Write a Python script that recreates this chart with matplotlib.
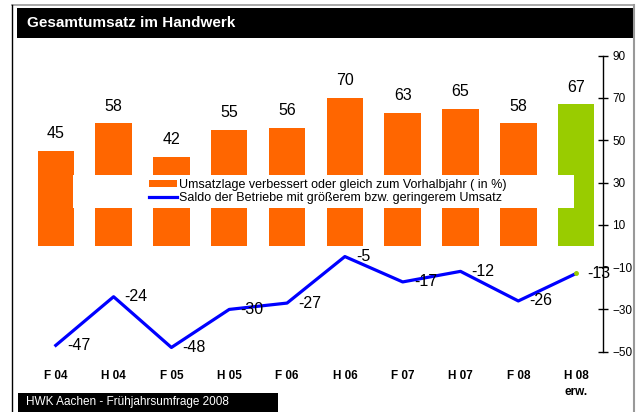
import matplotlib
matplotlib.use("Agg")
import matplotlib.pyplot as plt
from matplotlib.patches import Rectangle
from matplotlib.lines import Line2D

plt.rcParams['font.family'] = ['Liberation Sans', 'DejaVu Sans']

# data
categories = ["F 04", "H 04", "F 05", "H 05", "F 06", "H 06", "F 07", "H 07", "F 08", "H 08\nerw."]
umsatzlage = [45, 58, 42, 55, 56, 70, 63, 65, 58, 67]
saldo = [-47, -24, -48, -30, -27, -5, -17, -12, -26, -13]
yticks = [-50, -30, -10, 10, 30, 50, 70, 90]

orange = "#FF6600"
green = "#99CC00"
blue = "#0000FF"

W, H = 639, 412
fig = plt.figure(figsize=(W / 100, H / 100), dpi=100)

def fx(px):
    return px / W

def fy(py):
    return 1 - py / H

ax = fig.add_axes([fx(28.6), fy(351.7), fx(603.3) - fx(28.6), fy(55.7) - fy(351.7)])

x = list(range(len(categories)))
colors = [orange] * (len(categories) - 1) + [green]
bars = ax.bar(x, umsatzlage, width=0.63, color=colors, zorder=2)
for xi, v in zip(x, umsatzlage):
    ax.annotate(str(v), (xi, v), xytext=(0, 7), textcoords="offset points",
                ha="center", va="bottom", fontsize=11.5)

line, = ax.plot(x, saldo, color=blue, lw=2.3, zorder=4)
ax.plot(x[-1:], saldo[-1:], marker="o", ms=2.5, color=green, mec=green, zorder=5)
for xi, v in zip(x, saldo):
    ax.annotate(str(v), (xi, v), xytext=(8, 0), textcoords="offset points",
                ha="left", va="center", fontsize=11.5, zorder=6)

ax.set_xlim(-0.47, 9.47)
ax.set_ylim(-50, 90)
ax.set_yticks(yticks)
ax.yaxis.tick_right()
ax.tick_params(axis="y", direction="inout", length=7, width=1, pad=3, labelsize=8.5)
ax.set_xticks(x)
ax.set_xticklabels(categories, fontsize=8.5, fontweight="bold", linespacing=1.45)
ax.tick_params(axis="x", length=0, pad=13)
for s in ["top", "left", "bottom"]:
    ax.spines[s].set_visible(False)
ax.spines["right"].set_linewidth(1)

# white legend background box (wider than the entries, as in the original)
ax.add_patch(Rectangle((0.0773, 0.4855), 0.8717, 0.1115, transform=ax.transAxes,
                       facecolor="white", edgecolor="none", zorder=3))
handles = [Rectangle((0, 0), 1, 1, facecolor=orange, edgecolor="none"),
           Line2D([0], [0], color=blue, lw=2.3)]
labels = ["Umsatzlage verbessert oder gleich zum Vorhalbjahr ( in %)",
          "Saldo der Betriebe mit größerem bzw. geringerem Umsatz"]
leg = ax.legend(handles, labels, loc="center left", bbox_to_anchor=(0.199, 0.541),
                frameon=False, fontsize=9, borderpad=0, handlelength=2.2,
                handletextpad=0.2, labelspacing=0.1, handleheight=0.55)
leg.set_zorder(5)

# frame, title bar and footer
fig.add_artist(Line2D([fx(12), fx(634)], [fy(5), fy(5)], color="#999999", lw=1.2))
fig.add_artist(Line2D([fx(12), fx(12)], [fy(5), fy(412)], color="black", lw=1))
fig.add_artist(Line2D([fx(634), fx(634)], [fy(5), fy(412)], color="#999999", lw=1.5))
fig.add_artist(Rectangle((fx(17), fy(38)), fx(635) - fx(17), fy(8) - fy(38),
                         facecolor="black", edgecolor="none"))
fig.text(fx(27), fy(23), "Gesamtumsatz im Handwerk", color="white", fontsize=11,
         fontweight="bold", ha="left", va="center")
fig.add_artist(Rectangle((fx(18), fy(412)), fx(278) - fx(18), fy(393) - fy(412),
                         facecolor="black", edgecolor="none"))
fig.text(fx(26), fy(402.5), "HWK Aachen - Frühjahrsumfrage 2008", color="white",
         fontsize=8.5, ha="left", va="center")

fig.savefig("out.png", dpi=100)
